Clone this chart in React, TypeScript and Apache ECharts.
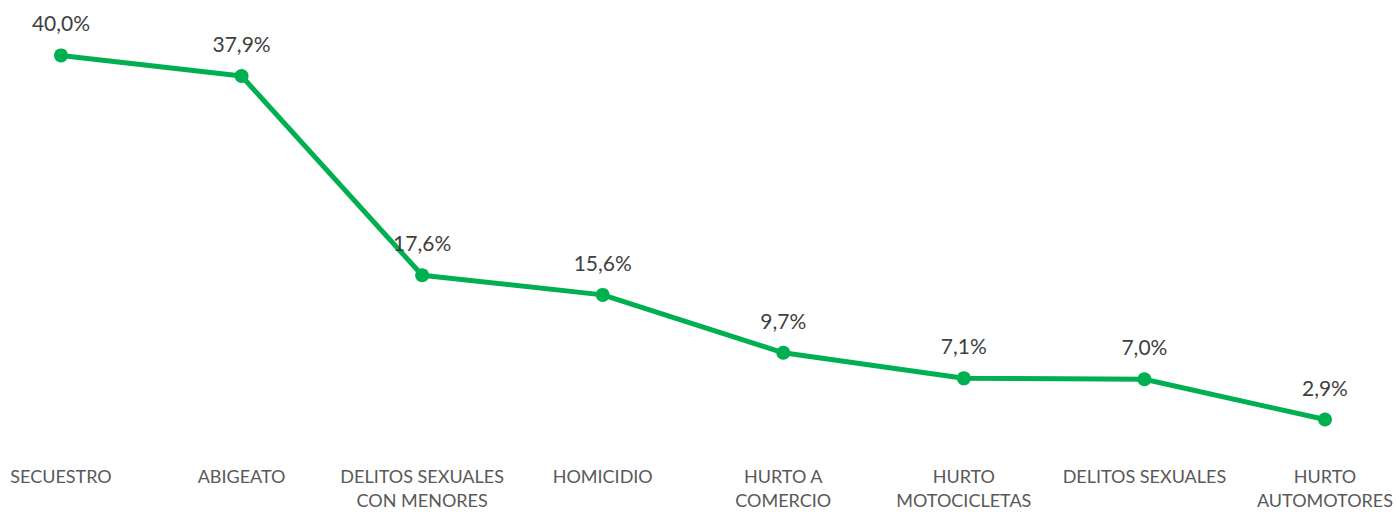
import React, { useEffect, useRef } from "react";
import * as echarts from "echarts";

const categories = [
  "SECUESTRO",
  "ABIGEATO",
  "DELITOS SEXUALES\nCON MENORES",
  "HOMICIDIO",
  "HURTO A\nCOMERCIO",
  "HURTO\nMOTOCICLETAS",
  "DELITOS SEXUALES",
  "HURTO\nAUTOMOTORES",
];
const values = [40.0, 37.9, 17.6, 15.6, 9.7, 7.1, 7.0, 2.9];

export default function App() {
  const ref = useRef<HTMLDivElement>(null);
  useEffect(() => {
    if (!ref.current) return;
    const chart = echarts.init(ref.current, undefined, { renderer: "svg" });
    chart.setOption({
      animation: false,
      backgroundColor: "#ffffff",
      grid: { left: 61, right: 71, top: 55.4, bottom: 60.4, containLabel: false },
      xAxis: {
        type: "category",
        data: categories,
        boundaryGap: false,
        axisLine: { show: false },
        axisTick: { show: false },
        splitLine: { show: false },
        axisLabel: {
          interval: 0,
          hideOverlap: false,
          color: "#595959",
          fontFamily: "Lato",
          fontSize: 18,
          lineHeight: 24,
          margin: 16,
        },
      },
      yAxis: {
        type: "value",
        min: 0,
        max: 40,
        show: false,
        splitLine: { show: false },
      },
      series: [
        {
          type: "line",
          data: values,
          clip: false,
          symbol: "circle",
          symbolSize: 14,
          lineStyle: { color: "#00B050", width: 5 },
          itemStyle: { color: "#00B050" },
          label: {
            show: true,
            position: "top",
            distance: 15,
            color: "#404040",
            fontFamily: "Lato",
            fontSize: 21,
            formatter: (p: any) => p.value.toFixed(1).replace(".", ",") + "%",
          },
        },
      ],
    });
    return () => chart.dispose();
  }, []);
  return (
    <div
      ref={ref}
      style={{ position: "fixed", left: 0, top: 0, width: 1396, height: 512 }}
    />
  );
}
